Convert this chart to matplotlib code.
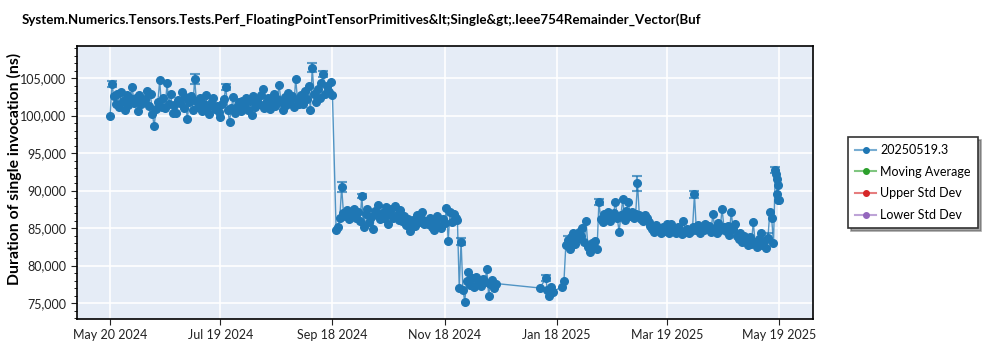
import pandas as pd
import matplotlib
matplotlib.use("Agg")
import matplotlib.pyplot as plt
import matplotlib.dates as mdates
from matplotlib.colors import to_rgba
from matplotlib.lines import Line2D
from matplotlib.ticker import FuncFormatter, MultipleLocator

plt.rcParams['font.family'] = ['Lato', 'DejaVu Sans']

title = "System.Numerics.Tensors.Tests.Perf_FloatingPointTensorPrimitives&lt;Single&gt;.Ieee754Remainder_Vector(Buf"
ylabel = "Duration of single invocation (ns)"
legend_labels = ["20250519.3", "Moving Average", "Upper Std Dev", "Lower Std Dev"]
legend_colors = ["#1f77b4", "#2ca02c", "#d62728", "#9467bd"]
xtick_dates = ["2024-05-20", "2024-07-19", "2024-09-18", "2024-11-18",
               "2025-01-18", "2025-03-19", "2025-05-19"]

# daily results, one list per stretch of consecutive days
may_sep_2024 = [
    # May 20-31
    100000, 104200, 102600, 101500, 102900, 101200, 103100, 102000, 100800, 102700, 101400, 102300,
    # Jun
    103800, 101700, 102400, 100600, 102800, 101500, 101900, 102200, 103300, 101300,
    102900, 100200, 98600, 100900, 101800, 104700, 101100, 102400, 101000, 104300,
    101600, 102900, 100400, 101400, 100300, 102100, 101700, 103200, 101000, 102500,
    # Jul
    99500, 101800, 102600, 100800, 104900, 101900, 101200, 102300, 100600, 101500,
    102700, 101100, 100200, 101700, 102400, 100900, 101300, 100500, 99800, 101600,
    102200, 103800, 100700, 99200, 101000, 102500, 100400, 101200, 101800, 100600, 102000,
    # Aug
    101400, 102300, 100800, 101900, 100100, 102600, 101200, 102000, 101500, 102800,
    103600, 101000, 101700, 102400, 100900, 101600, 102900, 101300, 102200, 104100,
    101800, 100700, 102500, 101400, 103000, 101900, 102600, 101200, 104900, 102100, 101500,
    # Sep 1-18
    102700, 101600, 103300, 102200, 103900, 100700, 106400, 102900, 101800, 103500,
    102400, 104300, 105600, 102900, 104000, 103200, 104500, 102700,
]
sep_nov_2024 = [
    # Sep 20-30
    84800, 85100, 86300, 90500, 87000, 86600, 87400, 86200, 87100, 86800, 87500,
    # Oct
    86400, 87200, 86000, 89300, 85200, 86900, 87600, 85800, 86500, 84900,
    87300, 86700, 88100, 86200, 87000, 86400, 87800, 85600, 86900, 87500,
    86300, 87900, 86800, 86100, 87400, 85900, 86600, 85400, 86200, 84600, 85700,
    # Nov 1-25
    86100, 85300, 86700, 85800, 86400, 87200, 85600, 86000, 85500, 86300,
    85100, 84800, 85900, 86600, 85300, 85000, 86200, 85700, 87700, 83300,
    87200, 85800, 86900, 86300, 86100,
]
nov_dec_2024 = [
    77000, 83200, 76800, 75200, 77900, 79200, 77400, 78300, 77100, 78500,
    77700, 78000, 77300, 78200, 77800, 79500, 76000, 77600, 78100, 77000, 77600,
]
jan_may_2025 = [
    # Jan 23-31
    82700, 83400, 82200, 83800, 84300, 82900, 83600, 84500, 83900,
    # Feb
    85000, 83100, 86000, 82500, 81800, 83000, 82400, 83300, 82200, 88500,
    86200, 85800, 86900, 86400, 87200, 85900, 86700, 87000, 88500, 86300,
    84500, 86800, 88900, 86100, 87300, 88500, 86600, 87100,
    # Mar
    86400, 86900, 91000, 86700, 86200, 85900, 86700, 86400, 85800, 85300,
    84900, 84500, 85400, 84700, 85000, 84300, 85200, 84600, 85500, 84400,
    85500, 85000, 84700, 84300, 85100, 84800, 84200, 86000, 84500, 84900, 84400,
    # Apr
    84600, 85200, 89500, 84800, 85400, 84300, 85100, 84700, 85600, 84900,
    85300, 84500, 86900, 85000, 84400, 85700, 84800, 87600, 85200, 84600,
    85300, 84100, 87200, 84900, 85500, 84000, 83600, 84300, 83200, 83900,
    # May 1-16
    83400, 82700, 83800, 82900, 85800, 83100, 82500, 83600, 84400, 82800,
    83300, 82400, 83700, 87200, 86300, 83000,
]
segments = [("2024-05-20", may_sep_2024), ("2024-09-20", sep_nov_2024),
            ("2024-11-26", nov_dec_2024), ("2025-01-23", jan_may_2025)]

# sparse runs
jan_dates = ["2025-01-09", "2025-01-12", "2025-01-13", "2025-01-14",
             "2025-01-15", "2025-01-16", "2025-01-21", "2025-01-22"]
jan_vals = [77000, 78300, 76800, 75900, 77200, 76500, 77200, 78000]
last_dates = ["2025-05-17 00:00", "2025-05-17 08:00", "2025-05-17 16:00", "2025-05-18 00:00",
              "2025-05-18 08:00", "2025-05-18 16:00", "2025-05-19 00:00"]
last_vals = [92700, 92200, 91500, 89600, 90700, 88800, 88700]

# runs with a visible spread
err_dates = ["2024-05-21", "2024-07-05", "2024-07-22", "2024-09-07", "2024-09-13",
             "2024-09-23", "2024-10-04", "2024-11-27", "2025-01-12", "2025-01-24",
             "2025-02-10", "2025-03-03", "2025-04-03", "2025-05-13", "2025-05-17"]
err_sizes = [400, 700, 400, 600, 400, 700, 300, 500, 400, 500, 400, 1000, 500, 700, 400]

parts = []
for start, vals in segments:
    parts.append(pd.Series(vals, index=pd.date_range(start, periods=len(vals), freq="D")))
parts.append(pd.Series(jan_vals, index=pd.to_datetime(jan_dates)))
parts.append(pd.Series(last_vals, index=pd.to_datetime(last_dates)))
s = pd.concat(parts).sort_index()

blue = legend_colors[0]
fig = plt.figure(figsize=(10, 3.5), dpi=100)
ax = fig.add_axes([0.077, 0.0886, 0.736, 0.78])
ax.set_facecolor("#e5ecf6")

ax.plot(s.index, s.values, color=to_rgba(blue, 0.75), lw=1.0,
        marker="o", markersize=5.5, markerfacecolor=blue, markeredgecolor=blue, zorder=3)
ed = pd.to_datetime(err_dates)
ax.errorbar(ed, s.loc[ed].values, yerr=err_sizes, fmt="none", ecolor=blue,
            alpha=0.7, elinewidth=1.5, capsize=3.5, capthick=1.5, zorder=2)

ax.set_ylim(72870, 109270)
ax.set_xlim(pd.Timestamp("2024-05-02"), pd.Timestamp("2025-06-06 12:00"))
ax.set_xticks(pd.to_datetime(xtick_dates))
ax.xaxis.set_major_formatter(mdates.DateFormatter("%b %d %Y"))
ax.yaxis.set_major_locator(MultipleLocator(5000))
ax.yaxis.set_minor_locator(MultipleLocator(1000))
ax.yaxis.set_major_formatter(FuncFormatter(lambda v, p: f"{int(v):,}"))
ax.tick_params(axis="both", labelsize=9, colors="#222222", direction="out", length=4)
ax.tick_params(axis="y", which="minor", length=2)
ax.grid(True, color="white", lw=1.2)
ax.set_axisbelow(True)
for sp in ax.spines.values():
    sp.set_color("black")
    sp.set_linewidth(1.2)

fig.text(0.022, 0.945, title, ha="left", va="center", fontsize=9.6, fontweight="bold")
fig.text(0.014, 1 - 169 / 350, ylabel, ha="center", va="center", rotation=90,
         fontsize=11.3, fontweight="bold")

handles = [Line2D([], [], color=to_rgba(c, 0.6), lw=1.5, marker="o", markersize=4,
                  markerfacecolor=c, markeredgecolor=c) for c in legend_colors]
leg = fig.legend(handles, legend_labels, loc="upper left", bbox_to_anchor=(0.848, 1 - 137 / 350),
                 fontsize=9, frameon=True, fancybox=False, shadow=True, labelspacing=0.78,
                 handlelength=1.7, handletextpad=0.35, borderpad=0.55, borderaxespad=0)
leg.get_frame().set_edgecolor("#333333")
leg.get_frame().set_linewidth(1.2)

fig.savefig("out.png", dpi=100)
